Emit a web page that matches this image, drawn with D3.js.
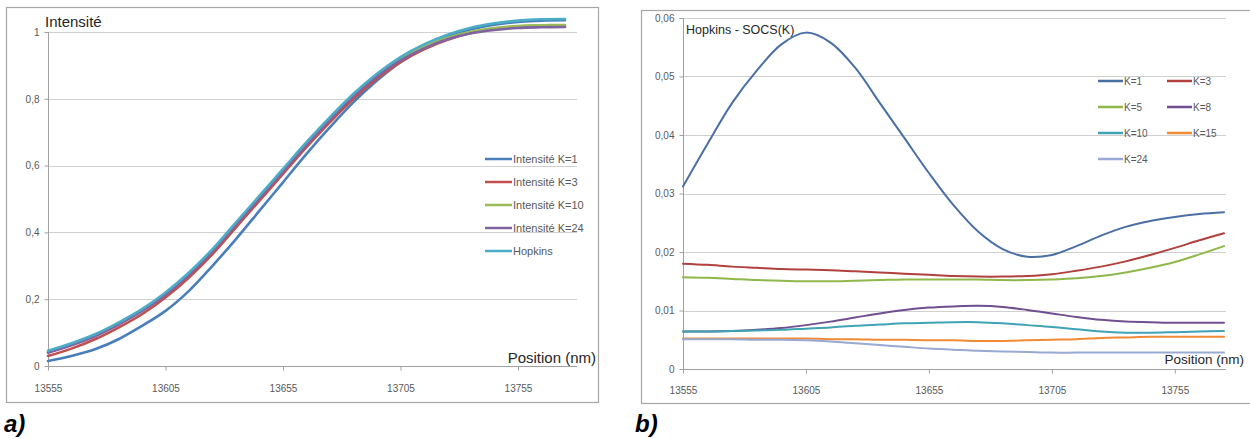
<!DOCTYPE html>
<html><head><meta charset="utf-8">
<script src="https://cdn.jsdelivr.net/npm/d3@7"></script>
<style>body{margin:0;background:#fff}svg{display:block}</style>
</head><body>
<svg id="c" width="1250" height="439"></svg>
<script>
// ---------- data ----------
const positions = [13555,13565,13575,13585,13595,13605,13615,13625,13635,13645,13655,13665,13675,13685,13695,13705,13715,13725,13735,13745,13755,13765,13775];
const xTicks = [13555,13605,13655,13705,13755];
const leftYTicks = [0,0.2,0.4,0.6,0.8,1];
const leftYLabels = ["0","0,2","0,4","0,6","0,8","1"];
const rightYTicks = [0,0.01,0.02,0.03,0.04,0.05,0.06];
const rightYLabels = ["0","0,01","0,02","0,03","0,04","0,05","0,06"];

const leftNames = ["Intensité K=1","Intensité K=3","Intensité K=10","Intensité K=24","Hopkins"];
const intK1  = [0.015,0.03,0.05,0.08,0.12,0.165,0.225,0.3,0.38,0.465,0.55,0.635,0.715,0.79,0.855,0.91,0.952,0.985,1.008,1.022,1.03,1.034,1.035];
const intK3  = [0.03,0.052,0.08,0.115,0.155,0.205,0.265,0.335,0.415,0.495,0.575,0.655,0.73,0.8,0.86,0.91,0.948,0.977,0.997,1.009,1.015,1.018,1.018];
const intK10 = [0.042,0.065,0.092,0.127,0.167,0.217,0.277,0.347,0.427,0.507,0.587,0.667,0.742,0.812,0.872,0.92,0.956,0.983,1.001,1.012,1.018,1.02,1.021];
const intK24 = [0.04,0.062,0.089,0.124,0.164,0.213,0.273,0.343,0.423,0.503,0.583,0.663,0.738,0.808,0.867,0.915,0.951,0.978,0.996,1.006,1.012,1.014,1.015];
const hopkins= [0.046,0.068,0.095,0.13,0.17,0.22,0.28,0.35,0.43,0.51,0.59,0.67,0.745,0.815,0.875,0.925,0.963,0.992,1.013,1.026,1.034,1.038,1.039];
const leftColors = ["#4a7ebb","#c0504d","#9bbb59","#8064a2","#4bacc6"];

const rightNames = ["K=1","K=3","K=5","K=8","K=10","K=15","K=24"];
const socsK1  = [0.0312,0.0385,0.0455,0.051,0.0555,0.0575,0.0558,0.0515,0.0455,0.0395,0.0335,0.028,0.0235,0.0205,0.0192,0.0195,0.021,0.0228,0.0243,0.0253,0.026,0.0265,0.0268];
const socsK3  = [0.018,0.0178,0.0175,0.0173,0.0171,0.017,0.0169,0.0167,0.0165,0.0163,0.0161,0.0159,0.0158,0.0158,0.0159,0.0162,0.0168,0.0175,0.0184,0.0195,0.0207,0.022,0.0232];
const socsK5  = [0.0157,0.0156,0.0154,0.0152,0.0151,0.015,0.015,0.0151,0.0152,0.0153,0.0153,0.0153,0.0153,0.0152,0.0152,0.0153,0.0155,0.0159,0.0165,0.0173,0.0183,0.0196,0.021];
const socsK8  = [0.0064,0.0064,0.0065,0.0067,0.007,0.0075,0.0081,0.0088,0.0095,0.0101,0.0105,0.0107,0.0108,0.0106,0.0101,0.0095,0.0089,0.0084,0.0081,0.008,0.0079,0.0079,0.0079];
const socsK10 = [0.0064,0.0064,0.0065,0.0066,0.0067,0.0069,0.0071,0.0074,0.0076,0.0078,0.0079,0.008,0.008,0.0078,0.0075,0.0072,0.0068,0.0064,0.0062,0.0062,0.0063,0.0064,0.0065];
const socsK15 = [0.0052,0.0052,0.0052,0.0052,0.0052,0.0052,0.0051,0.0051,0.005,0.005,0.0049,0.0049,0.0048,0.0048,0.0049,0.005,0.0051,0.0053,0.0054,0.0055,0.0055,0.0055,0.0055];
const socsK24 = [0.0051,0.0051,0.0051,0.005,0.005,0.0049,0.0047,0.0044,0.0041,0.0038,0.0035,0.0033,0.0031,0.003,0.0029,0.0028,0.0028,0.0028,0.0028,0.0028,0.0028,0.0028,0.0028];
const rightColors = ["#4a6fa5","#b0413e","#8fb74a","#6f4f8f","#3fa3b5","#f08a35","#9aa9d3"];

// ---------- drawing ----------
const svg = d3.select("#c");
const FONT = "'Liberation Sans', Arial, sans-serif";

function panel(cfg){
  const g = svg.append("g");
  // frame
  g.append("rect").attr("x",cfg.frame[0]+0.5).attr("y",cfg.frame[1]+0.5)
    .attr("width",cfg.frame[2]).attr("height",cfg.frame[3])
    .attr("fill","#fff").attr("stroke","#a6a6a6").attr("stroke-width",1.2);
  const x = d3.scaleLinear().domain([13555,13775]).range(cfg.xr);
  const y = d3.scaleLinear().domain(cfg.yd).range(cfg.yr);
  // gridlines
  g.append("g").selectAll("line").data(cfg.yTicks.slice(1)).join("line")
    .attr("x1",cfg.xr[0]).attr("x2",cfg.gridEnd)
    .attr("y1",d=>Math.round(y(d))+0.5).attr("y2",d=>Math.round(y(d))+0.5)
    .attr("stroke","#d0d0d0").attr("stroke-width",1.2);
  // y axis
  const ya = d3.axisLeft(y).tickValues(cfg.yTicks).tickSize(4).tickFormat((d,i)=>cfg.yLabels[i]);
  const yg = g.append("g").attr("transform",`translate(${cfg.xr[0]+0.5},0)`).call(ya);
  yg.select(".domain").attr("stroke","#a0a0a0").attr("d",`M0,${cfg.yr[1]}V${cfg.yr[0]}`);
  yg.selectAll(".tick line").attr("stroke","#a0a0a0");
  yg.selectAll(".tick text").attr("fill","#595959").attr("font-size",10).attr("font-family",FONT).attr("x",-cfg.yLabPad);
  // x axis
  const xa = d3.axisBottom(x).tickValues(xTicks).tickSize(4).tickFormat(d=>String(d));
  const xg = g.append("g").attr("transform",`translate(0,${Math.round(cfg.yr[0])+0.5})`).call(xa);
  xg.select(".domain").attr("stroke","#a0a0a0").attr("d",`M${cfg.xr[0]},0H${cfg.gridEnd}`);
  xg.selectAll(".tick line").attr("stroke","#a0a0a0");
  xg.selectAll(".tick text").attr("fill","#595959").attr("font-size",10).attr("font-family",FONT).attr("y",cfg.xLabPad);
  // lines
  const line = d3.line().x((d,i)=>x(positions[i])).y(d=>y(d)).curve(d3.curveCatmullRom.alpha(0.5));
  g.append("g").selectAll("path").data(cfg.series).join("path")
    .attr("d",d=>line(d)).attr("fill","none")
    .attr("stroke",(d,i)=>cfg.colors[i]).attr("stroke-width",cfg.lw)
    .attr("stroke-linejoin","round").attr("stroke-linecap","round");
  // legend
  const lg = g.append("g");
  cfg.names.forEach((n,i)=>{
    const col = i % cfg.legCols, row = Math.floor(i/cfg.legCols);
    const lx = cfg.leg[0] + col*cfg.legColW, ly = cfg.leg[1] + row*cfg.legRowH;
    lg.append("line").attr("x1",lx).attr("x2",lx+cfg.legLineW).attr("y1",ly).attr("y2",ly)
      .attr("stroke",cfg.colors[i]).attr("stroke-width",cfg.legLw);
    lg.append("text").attr("x",lx+cfg.legLineW+1).attr("y",ly+4).text(n)
      .attr("font-size",cfg.legFs).attr("font-family",FONT).attr("fill","#595959");
  });
  // titles
  g.append("text").attr("x",cfg.title[0]).attr("y",cfg.title[1]).text(cfg.titleText)
    .attr("font-size",cfg.titleFs).attr("font-family",FONT).attr("fill","#262626");
  g.append("text").attr("x",cfg.xTitle[0]).attr("y",cfg.xTitle[1]).text("Position (nm)")
    .attr("font-size",cfg.xTitleFs).attr("font-family",FONT).attr("fill","#262626").attr("text-anchor","end");
  // panel label
  svg.append("text").attr("x",cfg.lab[0]).attr("y",cfg.lab[1]).text(cfg.labText)
    .attr("font-size",24).attr("font-weight","bold").attr("font-style","italic")
    .attr("font-family",FONT).attr("fill","#000");
}

panel({
  frame:[6,7,592,395], xr:[48,565], gridEnd:577, yd:[0,1], yr:[366,32],
  yTicks:leftYTicks, yLabels:leftYLabels, yLabPad:9, xLabPad:18,
  series:[intK1,intK3,intK10,intK24,hopkins], colors:leftColors, names:leftNames, lw:2.6,
  leg:[485,159], legCols:1, legColW:0, legRowH:23, legLineW:27, legLw:2.5, legFs:11,
  title:[45,27], titleText:"Intensité", titleFs:15,
  xTitle:[596,363], xTitleFs:15, lab:[4,432], labText:"a)"
});
panel({
  frame:[641,10,612,393], xr:[683,1224], gridEnd:1226, yd:[0,0.06], yr:[369,18],
  yTicks:rightYTicks, yLabels:rightYLabels, yLabPad:9, xLabPad:17,
  series:[socsK1,socsK3,socsK5,socsK8,socsK10,socsK15,socsK24], colors:rightColors, names:rightNames, lw:2,
  leg:[1098,81], legCols:2, legColW:69, legRowH:26, legLineW:25, legLw:2.5, legFs:10,
  title:[686,34], titleText:"Hopkins - SOCS(K)", titleFs:12.5,
  xTitle:[1244,364], xTitleFs:13.5, lab:[635,432], labText:"b)"
});
</script>
</body></html>
